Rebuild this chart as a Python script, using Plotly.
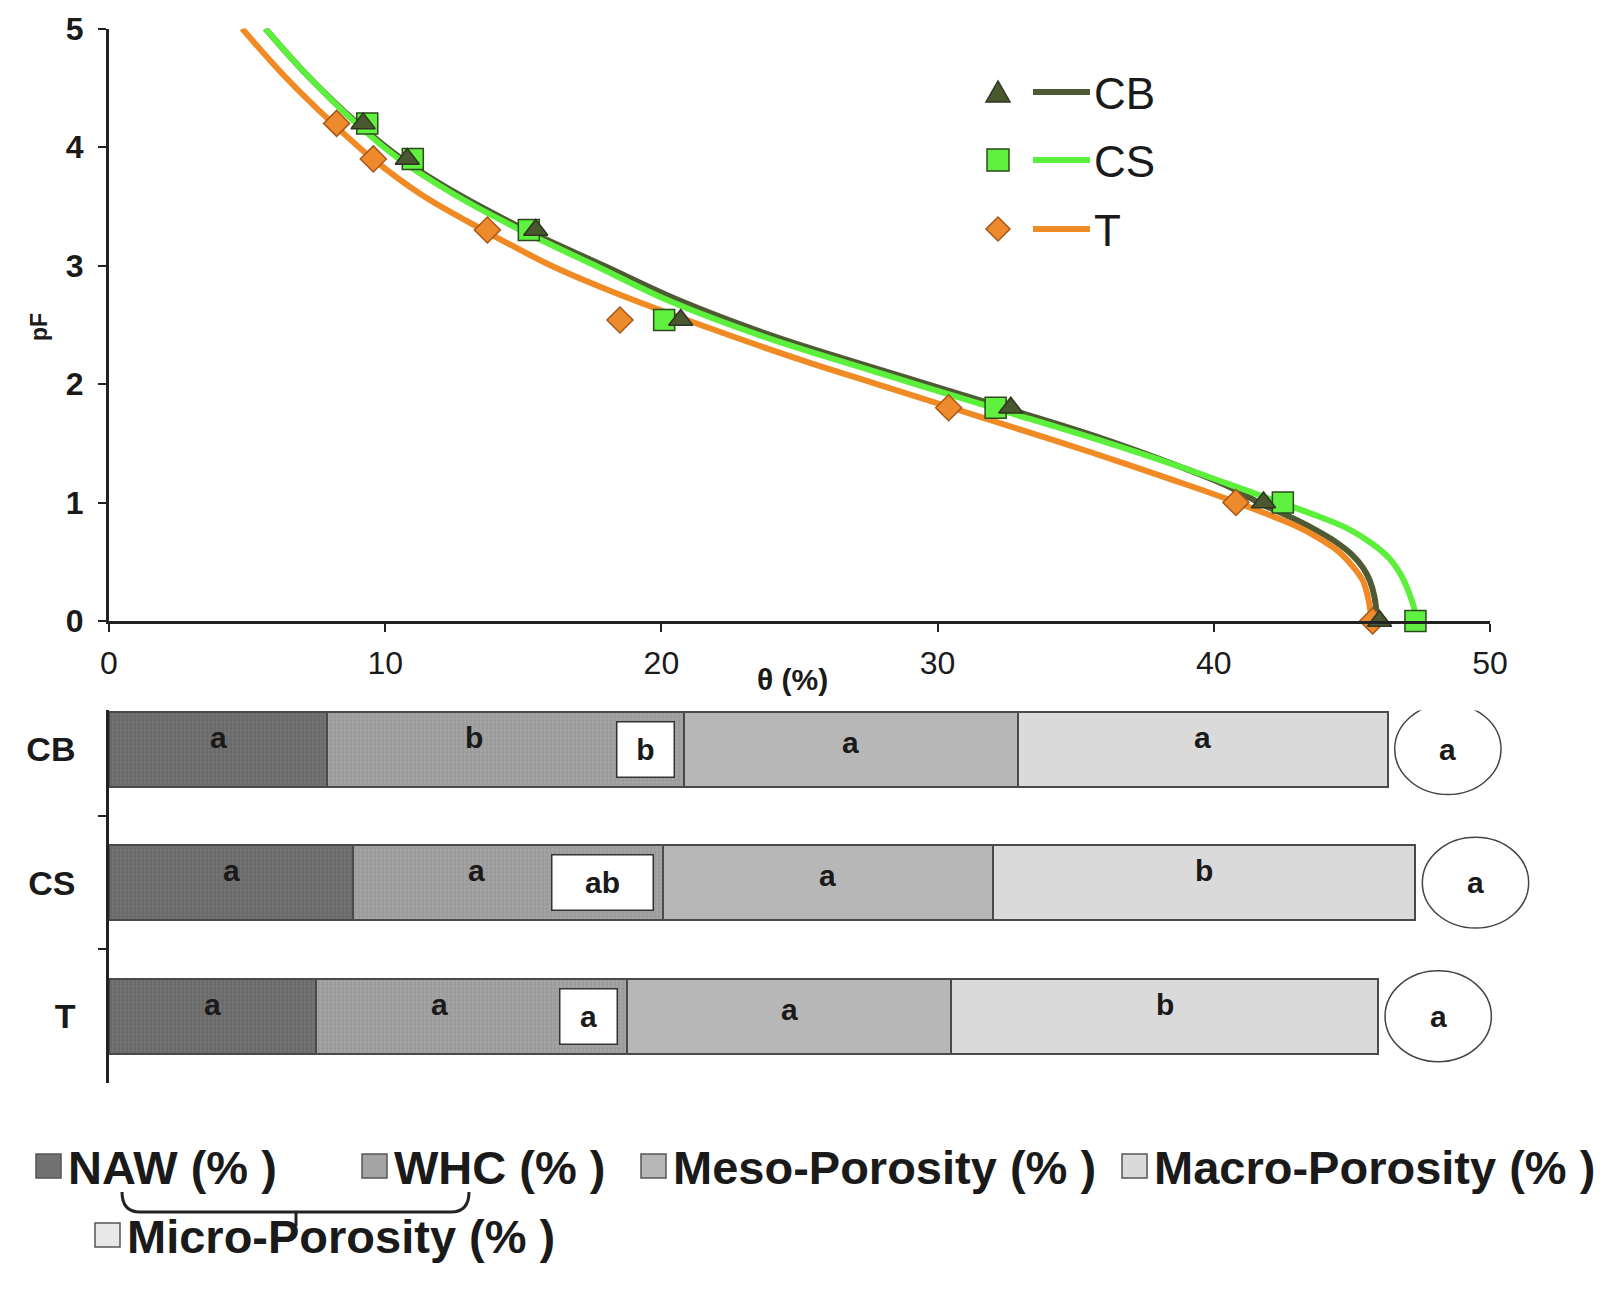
import plotly.graph_objects as go

W, H = 1600, 1291
FONT = "Arial, 'Liberation Sans', Helvetica, sans-serif"
TXT = "#1a1a1a"

# ---------------- water retention data ----------------
pf_marks = [0.0, 1.0, 1.8, 2.54, 3.3, 3.9, 4.2]
cb_marks = [46.0, 41.8, 32.65, 20.7, 15.45, 10.8, 9.2]
cs_marks = [47.3, 42.5, 32.1, 20.1, 15.2, 11.0, 9.35]
t_marks = [45.75, 40.8, 30.4, 18.5, 13.7, 9.57, 8.24]

cb_curve_pf = [5.0, 4.6, 4.2, 3.9, 3.6, 3.3, 3.0, 2.7, 2.4, 2.1, 1.8, 1.56, 1.3, 1.15, 0.98, 0.88, 0.78,
               0.67, 0.56, 0.45, 0.34, 0.2, 0.06, 0.0]
cb_curve_theta = [5.66, 7.2, 9.0, 10.6, 12.65, 15.1, 17.9, 20.7, 24.1, 28.2, 32.4, 35.7, 38.8, 40.4, 41.8, 42.75, 43.6,
                  44.4, 45.0, 45.4, 45.65, 45.82, 45.9, 45.95]

cs_curve_pf = [5.0, 4.6, 4.2, 3.9, 3.6, 3.3, 3.0, 2.7, 2.4, 2.1, 1.8, 1.53, 1.3, 1.1, 1.0, 0.9, 0.78, 0.65,
               0.53, 0.4, 0.28, 0.15, 0.06, 0.0]
cs_curve_theta = [5.66, 7.2, 8.95, 10.5, 12.5, 14.9, 17.6, 20.3, 23.7, 27.8, 32.0, 35.8, 38.8, 41.2, 42.4, 43.6, 44.85, 45.75,
                  46.35, 46.75, 47.0, 47.2, 47.3, 47.35]

t_curve_pf = [5.0, 4.6, 4.2, 3.9, 3.6, 3.3, 3.0, 2.8, 2.5, 2.2, 2.0, 1.8, 1.6, 1.42, 1.2, 1.02, 0.81, 0.7,
              0.59, 0.47, 0.34, 0.23, 0.12, 0.0]
t_curve_theta = [4.82, 6.35, 8.1, 9.55, 11.3, 13.55, 16.0, 18.0, 21.4, 25.1, 27.8, 30.5, 33.2, 35.6, 38.4, 40.6, 42.9, 43.8,
                 44.5, 45.0, 45.4, 45.55, 45.65, 45.7]

x_ticks = [0, 10, 20, 30, 40, 50]
y_ticks = [0, 1, 2, 3, 4, 5]

# ---------------- porosity bars ----------------
treatments = ["CB", "CS", "T"]
naw = [7.9, 8.85, 7.5]
whc = [12.9, 11.2, 11.25]
meso = [12.1, 11.95, 11.75]
macro = [13.4, 15.3, 15.45]

naw_letters = ["a", "a", "a"]
whc_letters = ["b", "a", "a"]
micro_letters = ["b", "ab", "a"]
meso_letters = ["a", "a", "a"]
macro_letters = ["a", "b", "b"]
total_letters = ["a", "a", "a"]

legend_names = ["NAW (% )", "WHC (% )", "Meso-Porosity (% )", "Macro-Porosity (% )", "Micro-Porosity (% )"]

# ---------------- colours ----------------
CB_COL, CS_COL, T_COL = "#4e5a33", "#5cef3c", "#f08a24"
CB_MK, CS_MK, T_MK = "#4a5830", "#5ff040", "#ec8a2c"
NAW_BG, NAW_FG = "#727272", "#5c5c5c"
WHC_BG, WHC_FG = "#a4a4a4", "#8c8c8c"
MESO_C, MACRO_C = "#b7b7b7", "#dadada"
EDGE = "#4a4a4a"


def px(x):
    return x / W


def py(y):
    return 1 - y / H


# axis geometry (pixels)
X0, X50 = 109, 1490
UNIT = (X50 - X0) / 50.0

fig = go.Figure()

# curves
for th, pf, col in [(cb_curve_theta, cb_curve_pf, CB_COL),
                    (t_curve_theta, t_curve_pf, T_COL),
                    (cs_curve_theta, cs_curve_pf, CS_COL)]:
    fig.add_trace(go.Scatter(x=th, y=pf, mode="lines", xaxis="x", yaxis="y",
                             line=dict(color=col, width=6, shape="spline", smoothing=1.0),
                             showlegend=False, hoverinfo="skip"))

# markers
fig.add_trace(go.Scatter(x=t_marks, y=pf_marks, mode="markers", xaxis="x", yaxis="y", cliponaxis=False,
                         marker=dict(symbol="diamond", size=20, color=T_MK, line=dict(color="#a8561a", width=1.5)),
                         showlegend=False))
fig.add_trace(go.Scatter(x=cs_marks, y=pf_marks, mode="markers", xaxis="x", yaxis="y", cliponaxis=False,
                         marker=dict(symbol="square", size=21, color=CS_MK, line=dict(color="#2c4a1c", width=1.5)),
                         showlegend=False))
fig.add_trace(go.Scatter(x=cb_marks, y=pf_marks, mode="markers", xaxis="x", yaxis="y", cliponaxis=False,
                         marker=dict(symbol="triangle-up", size=21, color=CB_MK, line=dict(color="#2e3520", width=1.5)),
                         showlegend=False))

# stacked bars
segments = [
    (naw, dict(color=NAW_BG, pattern=dict(shape=".", fgcolor=NAW_FG, bgcolor=NAW_BG, size=4, solidity=0.4))),
    (whc, dict(color=WHC_BG, pattern=dict(shape=".", fgcolor=WHC_FG, bgcolor=WHC_BG, size=4, solidity=0.4))),
    (meso, dict(color=MESO_C)),
    (macro, dict(color=MACRO_C)),
]
for vals, mk in segments:
    mk = dict(mk)
    mk["line"] = dict(color=EDGE, width=2)
    fig.add_trace(go.Bar(y=treatments, x=vals, orientation="h", xaxis="x2", yaxis="y2",
                         width=0.56, marker=mk, showlegend=False, hoverinfo="skip"))

annotations = []
shapes = []
LET_FONT = dict(family=FONT, size=30, color=TXT, weight="bold")

for i, cat in enumerate(treatments):
    c_naw = naw[i]
    c_whc = c_naw + whc[i]
    c_meso = c_whc + meso[i]
    c_tot = c_meso + macro[i]
    # segment letters
    annotations.append(dict(x=c_naw / 2, y=cat, xref="x2", yref="y2", text=naw_letters[i],
                            showarrow=False, font=LET_FONT, yshift=12))
    annotations.append(dict(x=c_naw + (whc[i] - 2.3) / 2, y=cat, xref="x2", yref="y2", text=whc_letters[i],
                            showarrow=False, font=LET_FONT, yshift=12))
    annotations.append(dict(x=(c_whc + c_meso) / 2, y=cat, xref="x2", yref="y2", text=meso_letters[i],
                            showarrow=False, font=LET_FONT, yshift=7))
    annotations.append(dict(x=(c_meso + c_tot) / 2, y=cat, xref="x2", yref="y2", text=macro_letters[i],
                            showarrow=False, font=LET_FONT, yshift=12))
    # micro-porosity letter box
    annotations.append(dict(x=c_whc, y=cat, xref="x2", yref="y2", text=micro_letters[i],
                            showarrow=False, font=LET_FONT, xanchor="right", xshift=-9,
                            bgcolor="white", bordercolor="#333", borderwidth=1.5,
                            width=54 + 44 * (len(micro_letters[i]) - 1), height=52))
    # total porosity circle
    gap, cw = 0.25, 3.85
    shapes.append(dict(type="circle", xref="x2", yref="y2", x0=c_tot + gap, x1=c_tot + gap + cw,
                       y0=i - 0.34, y1=i + 0.34, line=dict(color="#444", width=1.5), fillcolor="white"))
    annotations.append(dict(x=c_tot + gap + cw / 2, y=cat, xref="x2", yref="y2", text=total_letters[i],
                            showarrow=False, font=LET_FONT))

# axis titles
annotations.append(dict(x=px(792), y=py(679), xref="paper", yref="paper", text="θ (%)", showarrow=False,
                        xanchor="center", yanchor="middle",
                        font=dict(family=FONT, size=30, color=TXT, weight="bold")))
annotations.append(dict(x=px(39), y=py(327), xref="paper", yref="paper", text="pF", showarrow=False,
                        xanchor="center", yanchor="middle",
                        textangle=-90, font=dict(family=FONT, size=23, color=TXT, weight="bold")))

# ---- top-right legend (marker, line, label) ----
leg_rows = [("CB", 92, CB_COL, CB_MK, "tri", "#2e3520"),
            ("CS", 160, CS_COL, CS_MK, "sq", "#2c4a1c"),
            ("T", 229, T_COL, T_MK, "dia", "#a8561a")]
for name, yy, lc, mc, kind, ec in leg_rows:
    cx = 998
    if kind == "tri":
        path = f"M {px(cx-12)},{py(yy+10)} L {px(cx+12)},{py(yy+10)} L {px(cx)},{py(yy-11)} Z"
    elif kind == "sq":
        path = f"M {px(cx-11)},{py(yy-11)} L {px(cx+11)},{py(yy-11)} L {px(cx+11)},{py(yy+11)} L {px(cx-11)},{py(yy+11)} Z"
    else:
        path = f"M {px(cx)},{py(yy-12)} L {px(cx+12)},{py(yy)} L {px(cx)},{py(yy+12)} L {px(cx-12)},{py(yy)} Z"
    shapes.append(dict(type="path", xref="paper", yref="paper", path=path, fillcolor=mc,
                       line=dict(color=ec, width=1.5)))
    shapes.append(dict(type="line", xref="paper", yref="paper", x0=px(1033), x1=px(1090), y0=py(yy), y1=py(yy),
                       line=dict(color=lc, width=6)))
    annotations.append(dict(x=px(1092), y=py(yy + 1), xref="paper", yref="paper", text=name, showarrow=False,
                            xanchor="left", yanchor="middle", font=dict(family=FONT, size=44, color=TXT)))

# ---- bottom legend ----
LEG_FONT = dict(family=FONT, size=47, color=TXT, weight="bold")
leg_items = [
    (legend_names[0], 36, 1166, NAW_BG),
    (legend_names[1], 362, 1166, WHC_BG),
    (legend_names[2], 641, 1166, MESO_C),
    (legend_names[3], 1122, 1166, MACRO_C),
    (legend_names[4], 95, 1235, "#e8e8e8"),
]
for name, lx, ly, col in leg_items:
    shapes.append(dict(type="rect", xref="paper", yref="paper", x0=px(lx), x1=px(lx + 25),
                       y0=py(ly + 12), y1=py(ly - 12), fillcolor=col, line=dict(color="#555", width=1.5)))
    annotations.append(dict(x=px(lx + 30), y=py(ly + 1), xref="paper", yref="paper", text=name, showarrow=False,
                            xanchor="left", yanchor="middle", font=LEG_FONT))

# bracket under NAW/WHC
bpath = (f"M {px(122)},{py(1192)} Q {px(122)},{py(1212)} {px(140)},{py(1212)} "
         f"L {px(451)},{py(1212)} Q {px(469)},{py(1212)} {px(469)},{py(1192)}")
shapes.append(dict(type="path", xref="paper", yref="paper", path=bpath, line=dict(color="#222", width=3)))
shapes.append(dict(type="line", xref="paper", yref="paper", x0=px(296), x1=px(296), y0=py(1212), y1=py(1226),
                   line=dict(color="#222", width=3)))

AX = dict(showline=True, linecolor="#222", linewidth=3, ticks="outside", ticklen=8, tickwidth=2,
          tickcolor="#222", showgrid=False, zeroline=False, automargin=False)

bar_right = (X0 + 53 * UNIT) / W

fig.update_layout(
    width=W, height=H, margin=dict(l=0, r=0, t=0, b=0, autoexpand=False),
    paper_bgcolor="white", plot_bgcolor="rgba(0,0,0,0)",
    barmode="stack", bargap=0.44, showlegend=False,
    font=dict(family=FONT, color=TXT),
    xaxis=dict(domain=[px(X0), px(X50)], range=[0, 50], anchor="y", tickvals=x_ticks,
               tickfont=dict(family=FONT, size=32, color=TXT), ticklabelstandoff=4, **AX),
    yaxis=dict(domain=[py(621), py(28.6)], range=[0, 5], anchor="x", tickvals=y_ticks,
               tickfont=dict(family=FONT, size=32, color=TXT, weight="bold"), ticklabelstandoff=8, **AX),
    xaxis2=dict(domain=[px(X0), bar_right], range=[0, 53], anchor="y2", visible=False, automargin=False),
    yaxis2=dict(domain=[py(1083), py(710.4)], range=[2.5, -0.29], anchor="x2", type="category",
                categoryorder="array", categoryarray=treatments, tickson="boundaries",
                showline=True, linecolor="#222", linewidth=2.5, ticks="outside", ticklen=8, tickwidth=2,
                tickcolor="#222", showgrid=False, zeroline=False, automargin=False,
                tickfont=dict(family=FONT, size=34, color=TXT, weight="bold"), ticklabelstandoff=24),
    annotations=annotations,
    shapes=shapes,
)

fig.write_html("out.html")
